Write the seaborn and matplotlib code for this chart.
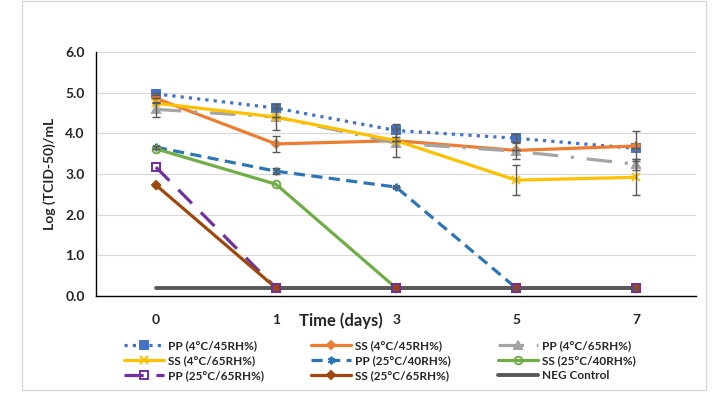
import numpy as np
import pandas as pd
import seaborn as sns
import matplotlib.pyplot as plt
from matplotlib.patches import Rectangle

# data
days = ["0", "1", "3", "5", "7"]
pos = np.arange(len(days))

pp_4_45 = [4.97, 4.62, 4.07, 3.88, 3.63]
ss_4_45 = [4.86, 3.74, 3.82, 3.58, 3.69]
pp_4_65 = [4.59, 4.40, 3.76, 3.56, 3.24]
ss_4_65 = [4.74, 4.40, 3.82, 2.85, 2.92]
pp_25_40 = [3.66, 3.07, 2.68, 0.2, 0.2]
ss_25_40 = [3.62, 2.75, 0.2, 0.2, 0.2]
pp_25_65 = [3.17, 0.2, 0.2, 0.2, 0.2]
ss_25_65 = [2.73, 0.2, 0.2, 0.2, 0.2]
neg_ctrl = [0.2, 0.2, 0.2, 0.2, 0.2]

err_pp_4_45 = [0.03, 0.0, 0.17, 0.1, 0.0]
err_ss_4_45 = [0.0, 0.19, 0.0, 0.0, 0.36]
err_pp_4_65 = [0.19, 0.32, 0.35, 0.2, 0.13]
err_ss_4_65 = [0.0, 0.0, 0.0, 0.37, 0.44]
err_pp_25_40 = [0.04, 0.07, 0.0, 0.0, 0.0]

series = [
    # label, values, errors, color, linestyle, marker, filled
    ("PP (4°C/45RH%)", pp_4_45, err_pp_4_45, "#4472C4", (0, (1, 1.6)), "s", True),
    ("SS (4°C/45RH%)", ss_4_45, err_ss_4_45, "#ED7D31", "-", "D", True),
    ("PP (4°C/65RH%)", pp_4_65, err_pp_4_65, "#A5A5A5", (0, (8, 4, 1, 4)), "^", True),
    ("SS (4°C/65RH%)", ss_4_65, err_ss_4_65, "#FFC000", "-", "x", True),
    ("PP (25°C/40RH%)", pp_25_40, err_pp_25_40, "#2E75B6", (0, (3.5, 2)), (6, 2, 0), True),
    ("SS (25°C/40RH%)", ss_25_40, None, "#70AD47", "-", "o", False),
    ("PP (25°C/65RH%)", pp_25_65, None, "#7030A0", (0, (6, 4)), "s", False),
    ("SS (25°C/65RH%)", ss_25_65, None, "#9E480E", "-", "D", True),
    ("NEG Control", neg_ctrl, None, "#595959", "-", None, True),
]

sns.set_style("white")
plt.rcParams['font.family'] = ['Lato', 'DejaVu Sans']

fig = plt.figure(figsize=(7.26, 4.09), dpi=100)
ax = fig.add_axes([0.132, 0.276, 0.827, 0.597])

fig.patches.append(Rectangle((0.030, 0.046), 0.942, 0.952, transform=fig.transFigure,
                             fill=False, edgecolor="#d9d9d9", lw=1))

for label, vals, err, color, ls, mk, filled in series:
    df = pd.DataFrame({"x": pos, "y": vals})
    kw = dict(color=color, linestyle=ls, lw=2.3, label=label, zorder=3)
    if mk is not None:
        kw.update(marker=mk, markersize=5.5 if mk != "D" else 4.5,
                  markerfacecolor=color if filled else "none",
                  markeredgecolor=color, markeredgewidth=1.4)
    else:
        kw.update(lw=2.8, zorder=3.5)
    sns.lineplot(data=df, x="x", y="y", ax=ax, **kw)
    if err is not None:
        ax.errorbar(pos, vals, yerr=err, fmt="none", ecolor="#595959",
                    elinewidth=1, capsize=3, capthick=1, zorder=5)

# open purple squares sit on top of the control line at the detection limit
ax.plot(pos, pp_25_65, linestyle="none", marker="s", markersize=5.5,
        markerfacecolor="none", markeredgecolor="#7030A0", markeredgewidth=1.4, zorder=4)
ax.plot(pos, ss_25_65, linestyle="none", marker="D", markersize=4.5,
        color="#9E480E", zorder=3.8)

h, l = ax.get_legend_handles_labels()
handles = dict(zip(l, h))
if ax.get_legend() is not None:
    ax.get_legend().remove()

ax.set_xlim(-0.5, 4.5)
ax.set_ylim(0, 6)
ax.set_xticks(pos)
ax.set_xticklabels(days, fontweight="bold", fontsize=10)
ax.set_yticks(np.arange(0, 6.1, 1))
ax.set_yticklabels([f"{v:.1f}" for v in np.arange(0, 6.1, 1)], fontweight="bold", fontsize=10)
ax.tick_params(axis="both", length=0)
ax.tick_params(axis="x", pad=13)
ax.tick_params(axis="y", pad=8)
ax.yaxis.grid(True, color="#d9d9d9", lw=0.8)
ax.set_axisbelow(True)
for s in ["top", "right"]:
    ax.spines[s].set_visible(False)
for s in ["left", "bottom"]:
    ax.spines[s].set_color("black")
    ax.spines[s].set_linewidth(1)

ax.set_xlabel("Time (days)", fontweight="bold", fontsize=12)
ax.xaxis.set_label_coords(0.408, -0.068)
ax.set_ylabel("Log (TCID-50)/mL", fontweight="bold", fontsize=10)
ax.yaxis.set_label_coords(-0.066, 0.5)

cols = [
    ["PP (4°C/45RH%)", "SS (4°C/65RH%)", "PP (25°C/65RH%)"],
    ["SS (4°C/45RH%)", "PP (25°C/40RH%)", "SS (25°C/65RH%)"],
    ["PP (4°C/65RH%)", "SS (25°C/40RH%)", "NEG Control"],
]
xs = [0.163, 0.420, 0.678]
for col, x0 in zip(cols, xs):
    fig.legend([handles[c] for c in col], col, loc="upper left",
               bbox_to_anchor=(x0, 0.182), frameon=False,
               prop={"weight": "bold", "size": 8.5}, handlelength=3.4,
               handletextpad=0.3, labelspacing=0.32, borderpad=0)

fig.savefig("out.png", dpi=100)
